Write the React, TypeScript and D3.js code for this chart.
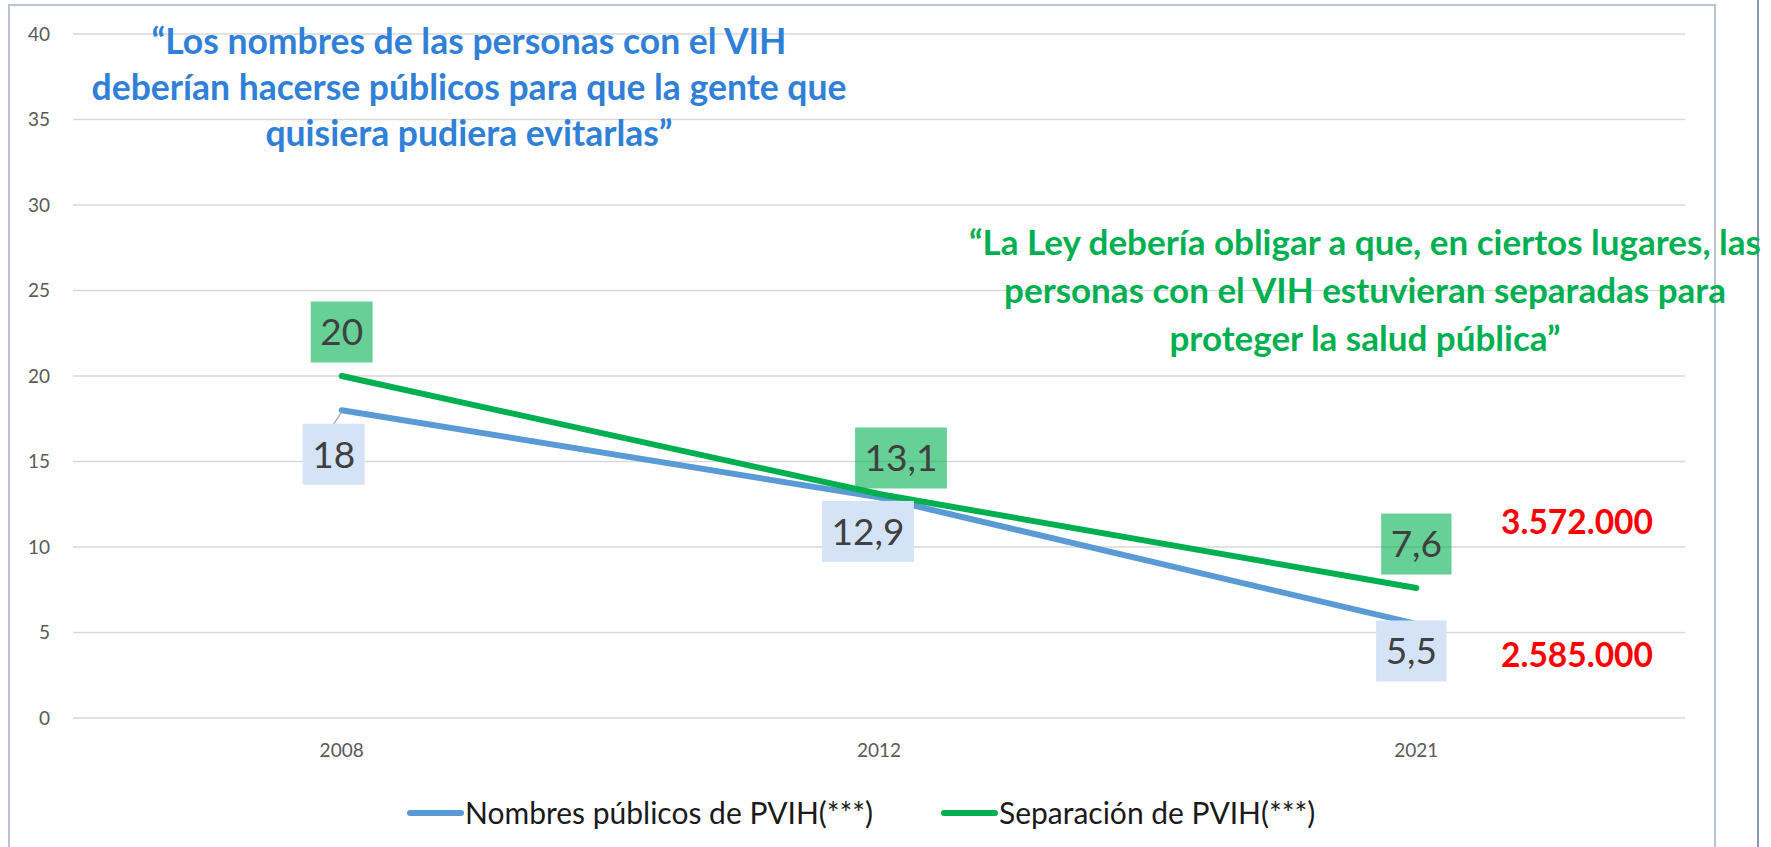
import { useEffect, useRef } from "react";
import * as d3 from "d3";

const WIDTH = 1771;
const HEIGHT = 847;
const MARGIN = { top: 34, right: 86, bottom: 129, left: 73 };

const years = ["2008", "2012", "2021"];
const nombresPublicos = [18, 12.9, 5.5];
const separacion = [20, 13.1, 7.6];
const yTicks = [0, 5, 10, 15, 20, 25, 30, 35, 40];
const seriesNames = ["Nombres públicos de PVIH(***)", "Separación de PVIH(***)"];
const blueQuote = [
  "“Los nombres de las personas con el VIH",
  "deberían hacerse públicos para que la gente que",
  "quisiera pudiera evitarlas”",
];
const greenQuote = [
  "“La Ley debería obligar a que, en ciertos lugares, las",
  "personas con el VIH estuvieran separadas para",
  "proteger la salud pública”",
];
const poblacion = ["3.572.000", "2.585.000"];

const BLUE = "#5b9bd5";
const GREEN = "#00b050";
const FONT = "Lato, 'Open Sans', sans-serif";

const App = () => {
  const svgRef = useRef(null);

  useEffect(() => {
    const svg = d3.select(svgRef.current);
    svg.selectAll("*").remove();

    const x = d3
      .scalePoint()
      .domain(years)
      .range([MARGIN.left, WIDTH - MARGIN.right])
      .padding(0.5);
    const y = d3
      .scaleLinear()
      .domain([0, 40])
      .range([HEIGHT - MARGIN.bottom, MARGIN.top]);

    // chart frame
    svg
      .append("path")
      .attr("d", `M9,${HEIGHT} L9,5 L1715,5 L1715,${HEIGHT}`)
      .attr("fill", "none")
      .attr("stroke", "#b9c3d3")
      .attr("stroke-width", 2);
    svg
      .append("line")
      .attr("x1", 1758)
      .attr("x2", 1758)
      .attr("y1", 0)
      .attr("y2", HEIGHT)
      .attr("stroke", "#8796ae")
      .attr("stroke-width", 2);

    // gridlines + y labels
    const grid = svg.append("g");
    grid
      .selectAll("line")
      .data(yTicks)
      .join("line")
      .attr("x1", MARGIN.left)
      .attr("x2", WIDTH - MARGIN.right)
      .attr("y1", (d) => y(d))
      .attr("y2", (d) => y(d))
      .attr("stroke", "#d9d9d9")
      .attr("stroke-width", 1.5);
    grid
      .selectAll("text")
      .data(yTicks)
      .join("text")
      .attr("x", 50)
      .attr("y", (d) => y(d))
      .attr("dy", "0.35em")
      .attr("text-anchor", "end")
      .attr("font-family", FONT)
      .attr("font-size", 19)
      .attr("fill", "#595959")
      .text((d) => d);

    // x labels
    svg
      .append("g")
      .selectAll("text")
      .data(years)
      .join("text")
      .attr("x", (d) => x(d))
      .attr("y", 750)
      .attr("dy", "0.35em")
      .attr("text-anchor", "middle")
      .attr("font-family", FONT)
      .attr("font-size", 19)
      .attr("fill", "#595959")
      .text((d) => d);

    // lines
    const lineGen = d3
      .line<number>()
      .x((_, i) => x(years[i]))
      .y((d) => y(d));

    [
      { values: nombresPublicos, color: BLUE },
      { values: separacion, color: GREEN },
    ].forEach((s) => {
      svg
        .append("path")
        .datum(s.values)
        .attr("d", lineGen)
        .attr("fill", "none")
        .attr("stroke", s.color)
        .attr("stroke-width", 6)
        .attr("stroke-linecap", "round")
        .attr("stroke-linejoin", "round");
    });

    // leader line for first blue label
    svg
      .append("line")
      .attr("x1", x(years[0]))
      .attr("y1", y(nombresPublicos[0]) + 2)
      .attr("x2", x(years[0]) - 8)
      .attr("y2", y(nombresPublicos[0]) + 14)
      .attr("stroke", "#a6a6a6")
      .attr("stroke-width", 1.2);

    // data labels
    const nudgeBlue = [
      [-8, 44],
      [-11, 34],
      [-5, 27],
    ];
    const nudgeGreen = [
      [0, -44],
      [22, -36],
      [0, -44],
    ];
    const drawLabels = (
      values: number[],
      nudge: number[][],
      fill: string,
      opacity: number
    ) => {
      values.forEach((v, i) => {
        const cx = x(years[i]) + nudge[i][0];
        const cy = y(v) + nudge[i][1];
        const g = svg.append("g");
        const rect = g.append("rect");
        const t = g
          .append("text")
          .attr("x", cx)
          .attr("y", cy)
          .attr("dy", "0.36em")
          .attr("text-anchor", "middle")
          .attr("font-family", FONT)
          .attr("font-size", 37)
          .attr("fill", "#404040")
          .text(String(v).replace(".", ","));
        const w = (t.node() as SVGTextElement).getComputedTextLength() + 19;
        rect
          .attr("x", cx - w / 2)
          .attr("y", cy - 30.5)
          .attr("width", w)
          .attr("height", 61)
          .attr("fill", fill)
          .attr("fill-opacity", opacity);
      });
    };
    drawLabels(nombresPublicos, nudgeBlue, "#d4e4f6", 1);
    drawLabels(separacion, nudgeGreen, GREEN, 0.6);

    // quotes
    const drawQuote = (
      lines: string[],
      cx: number,
      cy0: number,
      lh: number,
      size: number,
      color: string
    ) => {
      svg
        .append("g")
        .selectAll("text")
        .data(lines)
        .join("text")
        .attr("x", cx)
        .attr("y", (_, i) => cy0 + i * lh)
        .attr("dy", "0.35em")
        .attr("text-anchor", "middle")
        .attr("font-family", FONT)
        .attr("font-weight", 700)
        .attr("font-size", size)
        .attr("fill", color)
        .text((d) => d);
    };
    drawQuote(blueQuote, 469, 42, 46, 35.5, "#2f80d6");
    drawQuote(greenQuote, 1365, 243, 48, 35, GREEN);

    // population figures
    svg
      .append("g")
      .selectAll("text")
      .data(poblacion)
      .join("text")
      .attr("x", 1577)
      .attr("y", (_, i) => [522, 655][i])
      .attr("dy", "0.35em")
      .attr("text-anchor", "middle")
      .attr("font-family", FONT)
      .attr("font-weight", 700)
      .attr("font-size", 33.5)
      .attr("fill", "#ff0000")
      .text((d) => d);

    // legend
    const legend = svg.append("g");
    const legendX = [407, 941];
    [BLUE, GREEN].forEach((c, i) => {
      legend
        .append("line")
        .attr("x1", legendX[i] + 3)
        .attr("x2", legendX[i] + 54)
        .attr("y1", 813)
        .attr("y2", 813)
        .attr("stroke", c)
        .attr("stroke-width", 6)
        .attr("stroke-linecap", "round");
      legend
        .append("text")
        .attr("x", legendX[i] + 58)
        .attr("y", 813)
        .attr("dy", "0.35em")
        .attr("font-family", FONT)
        .attr("font-size", 30)
        .attr("fill", "#1a1a1a")
        .text(seriesNames[i]);
    });
  }, []);

  return (
    <div style={{ position: "absolute", left: 0, top: 0, background: "#fff" }}>
      <svg ref={svgRef} width={WIDTH} height={HEIGHT} style={{ display: "block" }} />
    </div>
  );
};

export default App;
